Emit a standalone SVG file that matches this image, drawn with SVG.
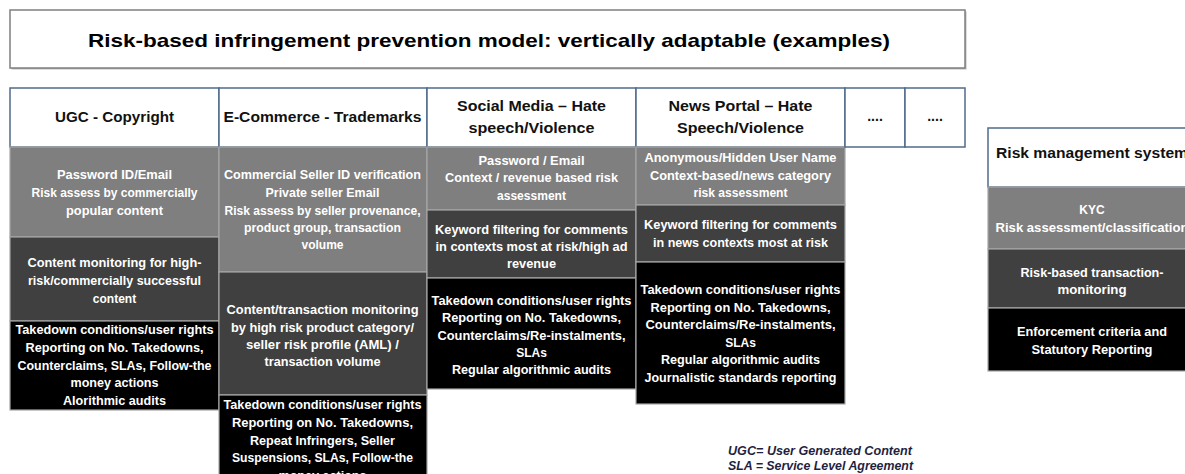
<svg xmlns="http://www.w3.org/2000/svg" width="1185" height="474" viewBox="0 0 1185 474">
<style>
text{font-family:"Liberation Sans",Arial,sans-serif;font-weight:bold;text-anchor:middle}
.t{font-size:12px;fill:#ffffff}
.h{font-size:14px;fill:#111111}
.title{font-size:19px;font-weight:bold;fill:#000000}
.hdr{fill:#ffffff;stroke:#4f6b8c;stroke-width:1.5}
.g{fill:#7f7f7f;stroke:#a6a6a6;stroke-width:1.2}
.d{fill:#404040;stroke:#a6a6a6;stroke-width:1.2}
.b{fill:#000000;stroke:#a6a6a6;stroke-width:1.2}
.note{font-size:12px;font-style:italic;fill:#1f1f3f;text-anchor:start}
</style>
<rect width="1185" height="474" fill="#ffffff"/>

<g id="title">
<rect x="11.5" y="11.5" width="955" height="58" fill="#bbbbbb"/>
<rect x="10" y="10" width="955" height="58" fill="#ffffff" stroke="#7f7f7f" stroke-width="1.5"/>
<text class="title" x="489" y="47" textLength="802" lengthAdjust="spacingAndGlyphs">Risk-based infringement prevention model: vertically adaptable (examples)</text>
</g>

<g id="col-ugc">
<rect class="hdr" x="10" y="88" width="209" height="59"/>
<text class="h" x="114.5" y="122" textLength="119" lengthAdjust="spacingAndGlyphs">UGC - Copyright</text>
<rect class="g" x="10" y="147" width="209" height="90"/>
<text class="t" x="114.5" y="179" textLength="115" lengthAdjust="spacingAndGlyphs">Password ID/Email</text>
<text class="t" x="114.5" y="197" textLength="166" lengthAdjust="spacingAndGlyphs">Risk assess by commercially</text>
<text class="t" x="114.5" y="215" textLength="97" lengthAdjust="spacingAndGlyphs">popular content</text>
<rect class="d" x="10" y="237" width="209" height="84"/>
<text class="t" x="114.5" y="267" textLength="174" lengthAdjust="spacingAndGlyphs">Content monitoring for high-</text>
<text class="t" x="114.5" y="285" textLength="173" lengthAdjust="spacingAndGlyphs">risk/commercially successful</text>
<text class="t" x="114.5" y="303">content</text>
<rect class="b" x="10" y="321" width="209" height="89"/>
<text class="t" x="114.5" y="334" textLength="198" lengthAdjust="spacingAndGlyphs">Takedown conditions/user rights</text>
<text class="t" x="114.5" y="352" textLength="178" lengthAdjust="spacingAndGlyphs">Reporting on No. Takedowns,</text>
<text class="t" x="114.5" y="370" textLength="194" lengthAdjust="spacingAndGlyphs">Counterclaims, SLAs, Follow-the</text>
<text class="t" x="114.5" y="387" textLength="88" lengthAdjust="spacingAndGlyphs">money actions</text>
<text class="t" x="114.5" y="405" textLength="103" lengthAdjust="spacingAndGlyphs">Alorithmic audits</text>
</g>

<g id="col-ecommerce">
<rect class="hdr" x="219" y="88" width="208" height="59"/>
<text class="h" x="322.5" y="122" textLength="198" lengthAdjust="spacingAndGlyphs">E-Commerce - Trademarks</text>
<rect class="g" x="219" y="147" width="208" height="125"/>
<text class="t" x="322.5" y="179" textLength="197" lengthAdjust="spacingAndGlyphs">Commercial Seller ID verification</text>
<text class="t" x="322.5" y="197" textLength="114" lengthAdjust="spacingAndGlyphs">Private seller Email</text>
<text class="t" x="322.5" y="215" textLength="196" lengthAdjust="spacingAndGlyphs">Risk assess by seller provenance,</text>
<text class="t" x="322.5" y="232" textLength="157" lengthAdjust="spacingAndGlyphs">product group, transaction</text>
<text class="t" x="322.5" y="249">volume</text>
<rect class="d" x="219" y="272" width="208" height="123"/>
<text class="t" x="322.5" y="314" textLength="192" lengthAdjust="spacingAndGlyphs">Content/transaction monitoring</text>
<text class="t" x="322.5" y="332" textLength="183" lengthAdjust="spacingAndGlyphs">by high risk product category/</text>
<text class="t" x="322.5" y="349" textLength="153" lengthAdjust="spacingAndGlyphs">seller risk profile (AML) /</text>
<text class="t" x="322.5" y="366" textLength="116" lengthAdjust="spacingAndGlyphs">transaction volume</text>
<rect class="b" x="219" y="395" width="208" height="90"/>
<text class="t" x="322.5" y="409" textLength="198" lengthAdjust="spacingAndGlyphs">Takedown conditions/user rights</text>
<text class="t" x="322.5" y="427" textLength="181" lengthAdjust="spacingAndGlyphs">Reporting on No. Takedowns,</text>
<text class="t" x="322.5" y="445" textLength="145" lengthAdjust="spacingAndGlyphs">Repeat Infringers, Seller</text>
<text class="t" x="322.5" y="462" textLength="181" lengthAdjust="spacingAndGlyphs">Suspensions, SLAs, Follow-the</text>
<text class="t" x="322.5" y="480" textLength="88" lengthAdjust="spacingAndGlyphs">money actions</text>
</g>

<g id="col-social">
<rect class="hdr" x="427" y="88" width="209" height="59"/>
<text class="h" x="531.5" y="111" textLength="149" lengthAdjust="spacingAndGlyphs">Social Media – Hate</text>
<text class="h" x="531.5" y="133" textLength="126" lengthAdjust="spacingAndGlyphs">speech/Violence</text>
<rect class="g" x="427" y="147" width="209" height="63"/>
<text class="t" x="531.5" y="165" textLength="106" lengthAdjust="spacingAndGlyphs">Password / Email</text>
<text class="t" x="531.5" y="182" textLength="173" lengthAdjust="spacingAndGlyphs">Context / revenue based risk</text>
<text class="t" x="531.5" y="200" textLength="69" lengthAdjust="spacingAndGlyphs">assessment</text>
<rect class="d" x="427" y="210" width="209" height="68"/>
<text class="t" x="531.5" y="234" textLength="193" lengthAdjust="spacingAndGlyphs">Keyword filtering for comments</text>
<text class="t" x="531.5" y="251" textLength="192" lengthAdjust="spacingAndGlyphs">in contexts most at risk/high ad</text>
<text class="t" x="531.5" y="268" textLength="49" lengthAdjust="spacingAndGlyphs">revenue</text>
<rect class="b" x="427" y="278" width="209" height="111"/>
<text class="t" x="531.5" y="305" textLength="200" lengthAdjust="spacingAndGlyphs">Takedown conditions/user rights</text>
<text class="t" x="531.5" y="322" textLength="179" lengthAdjust="spacingAndGlyphs">Reporting on No. Takedowns,</text>
<text class="t" x="531.5" y="339.5" textLength="188" lengthAdjust="spacingAndGlyphs">Counterclaims/Re-instalments,</text>
<text class="t" x="531.5" y="357">SLAs</text>
<text class="t" x="531.5" y="374" textLength="159" lengthAdjust="spacingAndGlyphs">Regular algorithmic audits</text>
</g>

<g id="col-news">
<rect class="hdr" x="636" y="88" width="209" height="59"/>
<text class="h" x="740.5" y="111" textLength="144" lengthAdjust="spacingAndGlyphs">News Portal – Hate</text>
<text class="h" x="740.5" y="133" textLength="127" lengthAdjust="spacingAndGlyphs">Speech/Violence</text>
<rect class="g" x="636" y="147" width="209" height="58"/>
<text class="t" x="740.5" y="162" textLength="192" lengthAdjust="spacingAndGlyphs">Anonymous/Hidden User Name</text>
<text class="t" x="740.5" y="180" textLength="181" lengthAdjust="spacingAndGlyphs">Context-based/news category</text>
<text class="t" x="740.5" y="197" textLength="94" lengthAdjust="spacingAndGlyphs">risk assessment</text>
<rect class="d" x="636" y="205" width="209" height="57"/>
<text class="t" x="740.5" y="229" textLength="193" lengthAdjust="spacingAndGlyphs">Keyword filtering for comments</text>
<text class="t" x="740.5" y="247" textLength="175" lengthAdjust="spacingAndGlyphs">in news contexts most at risk</text>
<rect class="b" x="636" y="262" width="209" height="142"/>
<text class="t" x="740.5" y="294" textLength="200" lengthAdjust="spacingAndGlyphs">Takedown conditions/user rights</text>
<text class="t" x="740.5" y="311.5" textLength="180" lengthAdjust="spacingAndGlyphs">Reporting on No. Takedowns,</text>
<text class="t" x="740.5" y="329" textLength="190" lengthAdjust="spacingAndGlyphs">Counterclaims/Re-instalments,</text>
<text class="t" x="740.5" y="346.5">SLAs</text>
<text class="t" x="740.5" y="364" textLength="159" lengthAdjust="spacingAndGlyphs">Regular algorithmic audits</text>
<text class="t" x="740.5" y="381.5" textLength="192" lengthAdjust="spacingAndGlyphs">Journalistic standards reporting</text>
</g>

<g id="col-more1">
<rect class="hdr" x="845" y="88" width="60" height="59"/>
<text class="h" x="875" y="121">....</text>
</g>
<g id="col-more2">
<rect class="hdr" x="905" y="88" width="60" height="59"/>
<text class="h" x="935" y="121">....</text>
</g>

<g id="risk-management">
<rect class="hdr" x="988" y="128" width="208" height="59"/>
<text class="h" x="1092" y="158" textLength="192" lengthAdjust="spacingAndGlyphs">Risk management system</text>
<rect class="g" x="988" y="187" width="208" height="62"/>
<text class="t" x="1092" y="214">KYC</text>
<text class="t" x="1092" y="232" textLength="193" lengthAdjust="spacingAndGlyphs">Risk assessment/classification</text>
<rect class="d" x="988" y="249" width="208" height="59"/>
<text class="t" x="1092" y="277" textLength="143" lengthAdjust="spacingAndGlyphs">Risk-based transaction-</text>
<text class="t" x="1092" y="294" textLength="69" lengthAdjust="spacingAndGlyphs">monitoring</text>
<rect class="b" x="988" y="308" width="208" height="63"/>
<text class="t" x="1092" y="336" textLength="150" lengthAdjust="spacingAndGlyphs">Enforcement criteria and</text>
<text class="t" x="1092" y="354" textLength="121" lengthAdjust="spacingAndGlyphs">Statutory Reporting</text>
</g>

<g id="legend">
<text class="note" x="728" y="455" textLength="184" lengthAdjust="spacingAndGlyphs">UGC= User Generated Content</text>
<text class="note" x="728" y="470" textLength="185" lengthAdjust="spacingAndGlyphs">SLA = Service Level Agreement</text>
</g>

<g id="connectors"></g>
</svg>
